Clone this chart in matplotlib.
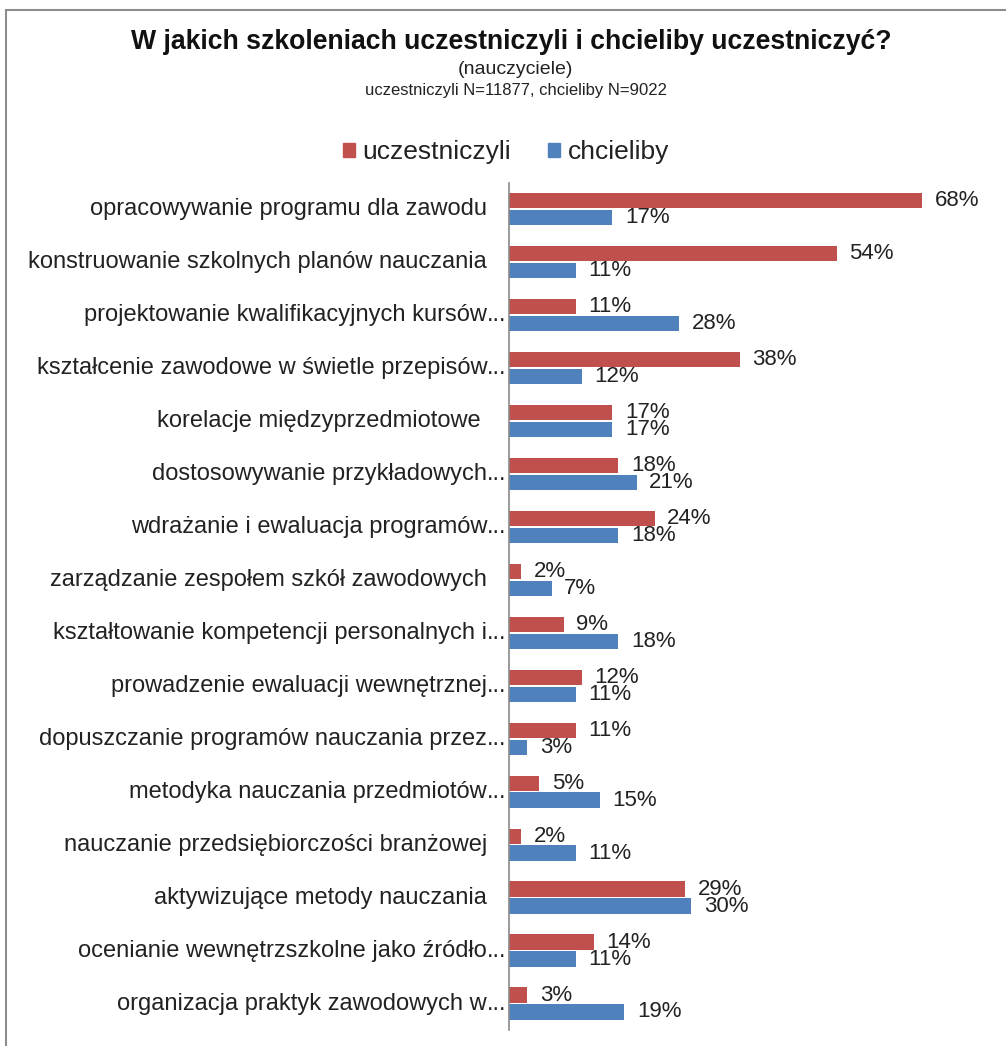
import matplotlib
matplotlib.use("Agg")
import numpy as np
import matplotlib.pyplot as plt
import matplotlib.transforms as mtransforms
from matplotlib.patches import Patch, Rectangle

plt.rcParams['font.family'] = ['Liberation Sans', 'DejaVu Sans']

# ----------------------
# Data
# ----------------------
categories = [
    "opracowywanie programu dla zawodu",
    "konstruowanie szkolnych planów nauczania",
    "projektowanie kwalifikacyjnych kursów...",
    "kształcenie zawodowe w świetle przepisów...",
    "korelacje międzyprzedmiotowe ",
    "dostosowywanie przykładowych...",
    "wdrażanie i ewaluacja programów...",
    "zarządzanie zespołem szkół zawodowych",
    "kształtowanie kompetencji personalnych i...",
    "prowadzenie ewaluacji wewnętrznej...",
    "dopuszczanie programów nauczania przez...",
    "metodyka nauczania przedmiotów...",
    "nauczanie przedsiębiorczości branżowej",
    "aktywizujące metody nauczania",
    "ocenianie wewnętrzszkolne jako źródło...",
    "organizacja praktyk zawodowych w...",
]
uczestniczyli = [68, 54, 11, 38, 17, 18, 24, 2, 9, 12, 11, 5, 2, 29, 14, 3]
chcieliby = [17, 11, 28, 12, 17, 21, 18, 7, 18, 11, 3, 15, 11, 30, 11, 19]
series_names = ["uczestniczyli", "chcieliby"]

title = "W jakich szkoleniach uczestniczyli i chcieliby uczestniczyć?"
subtitle = "(nauczyciele)"
note = "uczestniczyli N=11877, chcieliby N=9022"

RED = "#C0504D"
BLUE = "#4F81BD"
TEXT = "#222222"

fig = plt.figure(figsize=(10.06, 10.46), dpi=100)
ax = fig.add_axes([0.506, 0.0153, 0.478, 0.810])

y = np.arange(len(categories))
b1 = ax.barh(y - 0.16, uczestniczyli, height=0.29, color=RED)
b2 = ax.barh(y + 0.16, chcieliby, height=0.29, color=BLUE)

ax.bar_label(b1, labels=[f"{v}%" for v in uczestniczyli], padding=9,
             fontsize=16, color=TEXT)
ax.bar_label(b2, labels=[f"{v}%" for v in chcieliby], padding=9,
             fontsize=16, color=TEXT)

ax.set_xlim(0, 79.2)
ax.set_ylim(len(categories) - 0.5, -0.5)
ax.set_xticks([])
ax.set_yticks([])
for s in ["top", "right", "bottom"]:
    ax.spines[s].set_visible(False)
ax.spines["left"].set_color("#8a8a8a")
ax.spines["left"].set_linewidth(1.2)

# category labels, Excel style with trailing dots
base_tr = ax.get_yaxis_transform()
tr = mtransforms.offset_copy(base_tr, fig=fig, x=-22, y=0, units="dots")
for i, lab in enumerate(categories):
    if lab.endswith("..."):
        ax.text(0, i, lab[:-3], transform=tr, ha="right", va="center",
                fontsize=17, color=TEXT)
        ax.text(0, i, "...", transform=tr, ha="left", va="center",
                fontsize=17, color=TEXT)
    else:
        ax.text(0, i, lab, transform=tr, ha="right", va="center",
                fontsize=17, color=TEXT)

fig.text(0.508, 1 - 42 / 1046, title, ha="center", va="center",
         fontsize=19.2, fontweight="bold", color="#111111")
fig.text(0.512, 1 - 70 / 1046, subtitle, ha="center", va="center",
         fontsize=14, color=TEXT)
fig.text(0.513, 1 - 91 / 1046, note, ha="center", va="center",
         fontsize=12, color=TEXT)

handles = [Patch(color=RED, label=series_names[0]),
           Patch(color=BLUE, label=series_names[1])]
fig.legend(handles=handles, loc="center", bbox_to_anchor=(0.503, 1 - 152 / 1046),
           ncol=2, frameon=False, fontsize=19, handlelength=0.45,
           handleheight=0.45, handletextpad=0.3, columnspacing=1.4,
           labelcolor=TEXT)

# outer frame of the chart area
fig.patches.append(Rectangle((6 / 1006, -0.2), 1.5, 1.2 - 10 / 1046,
                             transform=fig.transFigure, fill=False,
                             edgecolor="#8c8c8c", linewidth=1.5))

fig.savefig("out.png", dpi=100)
